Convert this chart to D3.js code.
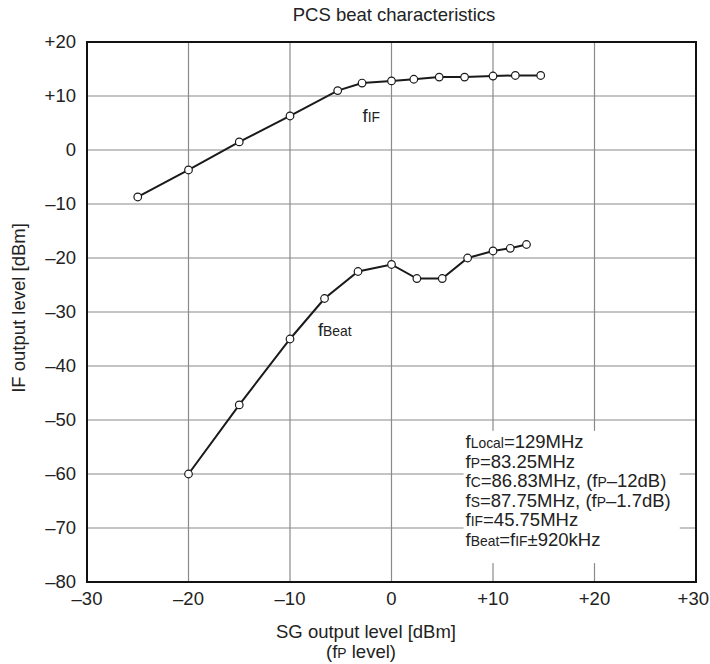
<!DOCTYPE html>
<html>
<head>
<meta charset="utf-8">
<script src="https://cdn.jsdelivr.net/npm/d3@7"></script>
<style>
  body { margin: 0; background: #fff; }
  svg text { font-family: "Liberation Sans", Arial, Helvetica, sans-serif; fill: #222; }
</style>
</head>
<body>
<div id="chart"></div>
<script>
// series
const fifX  = [-25, -20, -15, -10, -5.3, -2.9, 0, 2.2, 4.7, 7.2, 10, 12.2, 14.7];
const fifY  = [-8.7, -3.7, 1.5, 6.3, 11.0, 12.4, 12.8, 13.1, 13.5, 13.5, 13.7, 13.8, 13.8];
const beatX = [-20, -15, -10, -6.6, -3.3, 0, 2.5, 5, 7.5, 10, 11.7, 13.3];
const beatY = [-60, -47.2, -35, -27.5, -22.5, -21.2, -23.8, -23.8, -20, -18.7, -18.2, -17.5];

const xTicks = [-30, -20, -10, 0, 10, 20, 30];
const yTicks = [20, 10, 0, -10, -20, -30, -40, -50, -60, -70, -80];

// notes: alternating normal / subscript pieces
const notes = [
  ["f", "Local", "=129MHz"],
  ["f", "P", "=83.25MHz"],
  ["f", "C", "=86.83MHz, (f", "P", "\u201312dB)"],
  ["f", "S", "=87.75MHz, (f", "P", "\u20131.7dB)"],
  ["f", "IF", "=45.75MHz"],
  ["f", "Beat", "=f", "IF", "\u00b1920kHz"]
];

const W = 710, H = 664;
const margin = {left: 87, right: 14, top: 42, bottom: 82};
const FS = 18.5;

const fmt = v => v > 0 ? "+" + v : (v < 0 ? "\u2013" + Math.abs(v) : "0");

const svg = d3.select("#chart").append("svg")
  .attr("width", W).attr("height", H);

const x = d3.scaleLinear().domain([-30, 30]).range([margin.left, W - margin.right]);
const y = d3.scaleLinear().domain([-80, 20]).range([H - margin.bottom, margin.top]);

// grid
svg.append("g").selectAll("line").data(xTicks.slice(1, -1)).enter().append("line")
  .attr("x1", d => x(d)).attr("x2", d => x(d))
  .attr("y1", y(20)).attr("y2", y(-80))
  .attr("stroke", "#8a8a8a").attr("stroke-width", 1.2);
svg.append("g").selectAll("line").data(yTicks.slice(1, -1)).enter().append("line")
  .attr("x1", x(-30)).attr("x2", x(30))
  .attr("y1", d => y(d)).attr("y2", d => y(d))
  .attr("stroke", "#8a8a8a").attr("stroke-width", 1.2);

// frame
svg.append("rect")
  .attr("x", x(-30)).attr("y", y(20))
  .attr("width", x(30) - x(-30)).attr("height", y(-80) - y(20))
  .attr("fill", "none").attr("stroke", "#111").attr("stroke-width", 2);

// tick labels
svg.append("g").selectAll("text").data(yTicks).enter().append("text")
  .attr("x", x(-30) - 11).attr("y", d => y(d) + 6)
  .attr("text-anchor", "end").attr("font-size", FS)
  .text(fmt);
// last x label pulled in so it stays on the page
const last = xTicks[xTicks.length - 1];
svg.append("g").selectAll("text").data(xTicks).enter().append("text")
  .attr("x", d => d === last ? W - 1 : x(d)).attr("y", y(-80) + 23)
  .attr("text-anchor", d => d === last ? "end" : "middle").attr("font-size", FS)
  .text(fmt);

// series
const line = d3.line().x(d => x(d[0])).y(d => y(d[1]));
function drawSeries(xs, ys) {
  const pts = xs.map((v, i) => [v, ys[i]]);
  svg.append("path").datum(pts)
    .attr("d", line).attr("fill", "none")
    .attr("stroke", "#1a1a1a").attr("stroke-width", 2);
  svg.append("g").selectAll("circle").data(pts).enter().append("circle")
    .attr("cx", d => x(d[0])).attr("cy", d => y(d[1])).attr("r", 3.8)
    .attr("fill", "#fff").attr("stroke", "#1a1a1a").attr("stroke-width", 1.2);
}
drawSeries(fifX, fifY);
drawSeries(beatX, beatY);

// text with subscript-ish small pieces on the same baseline
function subLabel(px, py, parts, size) {
  const t = svg.append("text").attr("x", px).attr("y", py).attr("font-size", size);
  parts.forEach((p, i) => {
    t.append("tspan").attr("font-size", i % 2 ? size * 0.75 : size).text(p);
  });
  return t;
}
subLabel(x(-2.85), y(5.2), ["f", "IF"], FS);
subLabel(x(-7.25), y(-34.4), ["f", "Beat"], FS);

// notes box, masks the grid behind the text
svg.append("rect")
  .attr("x", x(7.1)).attr("y", y(-52.0))
  .attr("width", x(28.4) - x(7.1)).attr("height", y(-76.5) - y(-52.0))
  .attr("fill", "#fff");
notes.forEach((n, i) => subLabel(x(7.3), y(-55.2) + i * 19.5, n, FS));

// titles
svg.append("text").attr("x", 394).attr("y", 21)
  .attr("text-anchor", "middle").attr("font-size", FS)
  .text("PCS beat characteristics");
svg.append("text").attr("x", 366).attr("y", 638)
  .attr("text-anchor", "middle").attr("font-size", FS)
  .text("SG output level [dBm]");
subLabel(0, 658, ["(f", "P", " level)"], FS)
  .attr("x", 361).attr("text-anchor", "middle");
svg.append("text")
  .attr("transform", "translate(25," + (y(-30) - 4) + ") rotate(-90)")
  .attr("text-anchor", "middle").attr("font-size", FS)
  .text("IF output level [dBm]");
</script>
</body>
</html>
